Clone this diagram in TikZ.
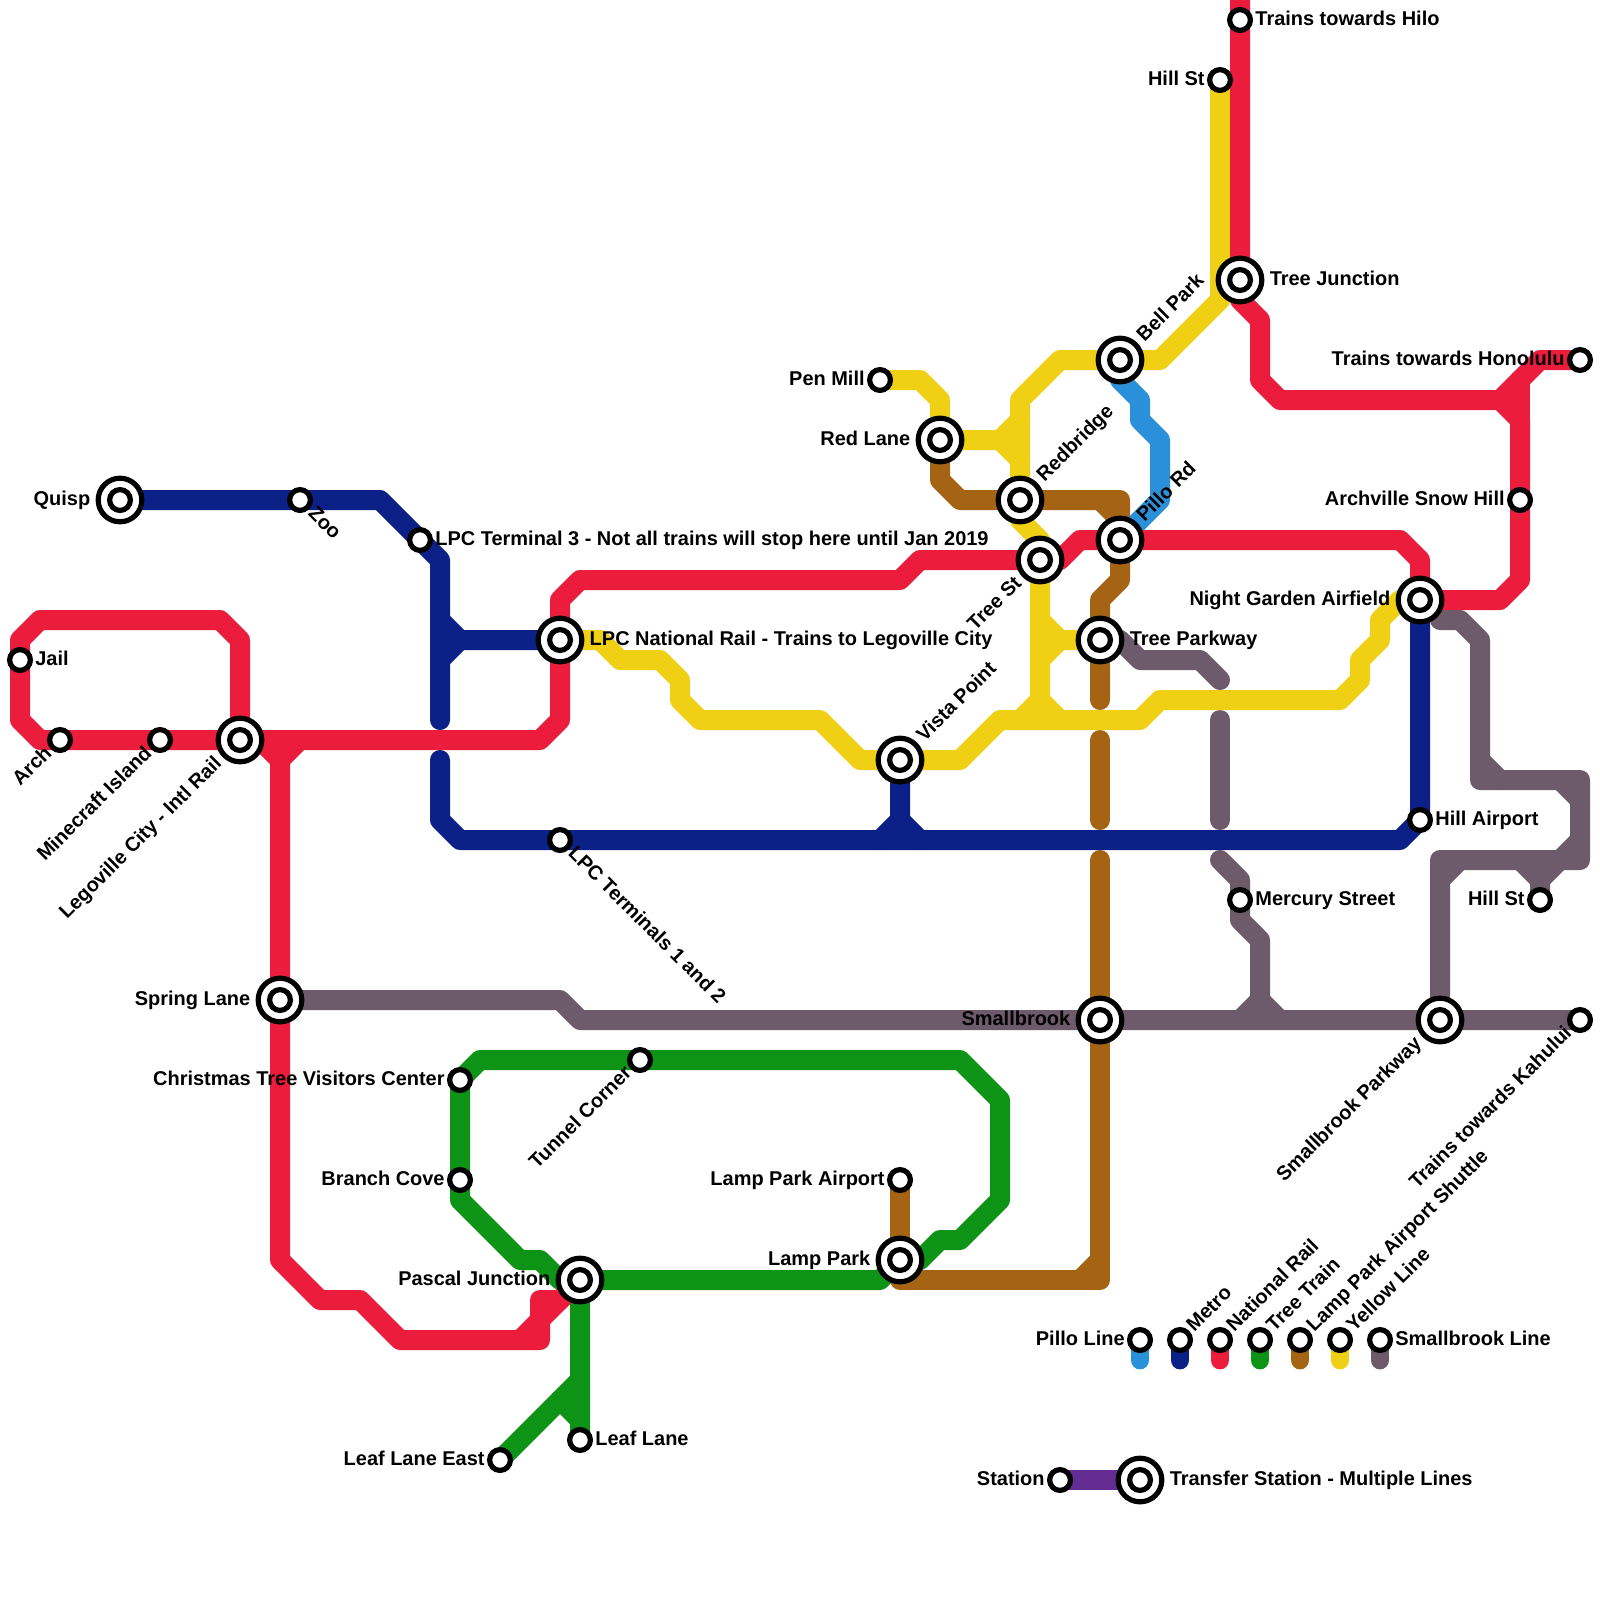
\documentclass[tikz,border=0pt]{standalone}
\usepackage{fontspec}
\setsansfont{Liberation Sans}
\usetikzlibrary{backgrounds}
\definecolor{cpillo}{HTML}{2A90D9}
\definecolor{cmetro}{HTML}{0C2188}
\definecolor{crail}{HTML}{EC1C3C}
\definecolor{ctree}{HTML}{0D9416}
\definecolor{clamp}{HTML}{A56413}
\definecolor{cyellow}{HTML}{F0D014}
\definecolor{csmall}{HTML}{6D5B6B}
\definecolor{cpurple}{HTML}{632C92}
\tikzset{
  route/.style={draw=#1, line width=0.5cm, line cap=round, line join=round},
  stub/.style={draw=#1, line width=0.47cm, line cap=round},
  stn/.style={circle, draw=black, fill=white, line width=0.13cm, minimum size=0.52cm, inner sep=0pt},
  xfer/.style={circle, draw=black, fill=white, line width=0.13cm, minimum size=1.09cm, inner sep=0pt, label={[stn]center:}},
  tag/.style={font=\sffamily\bfseries\fontsize{14.2}{14.2}\selectfont, inner sep=0pt, inner xsep=1.5pt},
  bigtag/.style={inner xsep=3.6pt},
  tag0/.style={tag, anchor=mid west, yshift=-1.4pt},
  tag180/.style={tag, anchor=mid east, yshift=-1.4pt},
  tag45/.style={tag, anchor=mid west, rotate=45, yshift=-1.4pt},
  tag-45/.style={tag, anchor=mid west, rotate=-45, yshift=-1.4pt},
  tag225/.style={tag, anchor=mid east, rotate=45, yshift=-1.4pt},
}
\begin{document}
\begin{tikzpicture}[x=0.5cm, y=-0.5cm]
  \useasboundingbox (0,0) rectangle (80,80);
  % interchanges
  \foreach \n/\x/\y/\a/\t in {quisp/6/25/180/Quisp, lpcrail/28/32/0/LPC National Rail - Trains to Legoville City,
    legov/12/37/225/Legoville City - Intl Rail, spring/14/50/180/Spring Lane, pascal/29/64/180/Pascal Junction,
    lamppk/45/63/180/Lamp Park, vista/45/38/45/Vista Point, redlane/47/22/180/Red Lane, redbr/51/25/45/Redbridge,
    treest/52/28/225/Tree St, pillo/56/27/45/Pillo Rd, bell/56/18/45/Bell Park, treejct/62/14/0/Tree Junction,
    treepk/55/32/0/Tree Parkway, smallb/55/51/180/Smallbrook, nightg/71/30/180/Night Garden Airfield,
    parkway/72/51/225/Smallbrook Parkway, keyxfer/57/74/0/Transfer Station - Multiple Lines}
    {\node[xfer] (\n) at (\x,\y) {}; \node[tag\a, bigtag] (\n-tag) at (\n.\a) {\t};}
  % plain stations
  \foreach \n/\x/\y/\a/\t in {zoo/15/25/-45/Zoo, lpcthree/21/27/0/LPC Terminal 3 - Not all trains will stop here until Jan 2019,
    jail/1/33/0/Jail, arch/3/37/225/Arch, minec/8/37/225/Minecraft Island, lpcone/28/42/-45/LPC Terminals 1 and 2,
    christ/23/54/180/Christmas Tree Visitors Center, tunnel/32/53/225/Tunnel Corner, branch/23/59/180/Branch Cove,
    leaf/29/72/0/Leaf Lane, leafe/25/73/180/Leaf Lane East, airport/45/59/180/Lamp Park Airport, penmill/44/19/180/Pen Mill,
    hilo/62/1/0/Trains towards Hilo, hillst/61/4/180/Hill St, hillair/71/41/0/Hill Airport, mercury/62/45/0/Mercury Street,
    hillse/77/45/180/Hill St, kahului/79/51/225/Trains towards Kahului, hono/79/18/180/Trains towards Honolulu,
    archv/76/25/180/Archville Snow Hill, keystn/53/74/180/Station}
    {\node[stn] (\n) at (\x,\y) {}; \node[tag\a] (\n-tag) at (\n.\a) {\t};}
  % key
  \foreach \n/\x/\a/\t in {keypillo/57/180/Pillo Line, keymetro/59/45/Metro, keyrail/61/45/National Rail, keytree/63/45/Tree Train,
    keylamp/65/45/Lamp Park Airport Shuttle, keyyellow/67/45/Yellow Line, keysmall/69/0/Smallbrook Line}
    {\node[stn] (\n) at (\x,67) {}; \node[tag\a] (\n-tag) at (\n.\a) {\t};}
  \begin{scope}[on background layer]
    % smallbrook line
    \draw[route=csmall] (spring.center) -- (28,50) -- (29,51) -- (kahului.center);
    \draw[route=csmall] (treepk.center) -- (56,32) -- (57,33) -- (60,33) -- (61,34);
    \draw[route=csmall] (61,36) -- (61,41);
    \draw[route=csmall] (61,43) -- (62,44) -- (mercury.center) -- (62,46) -- (63,47) -- (63,50) -- (62,51);
    \draw[route=csmall] (63,50) -- (64,51);
    \draw[route=csmall] (72,31) -- (73,31) -- (74,32) -- (74,39) -- (79,39) -- (79,43) -- (72,43) -- (parkway.center);
    \draw[route=csmall] (74,38) -- (75,39);
    \draw[route=csmall] (78,39) -- (79,40);
    \draw[route=csmall] (79,42) -- (78,43);
    \draw[route=csmall] (73,43) -- (72,44);
    \draw[route=csmall] (hillse.center) -- (77,44) -- (76,43);
    \draw[route=csmall] (77,44) -- (78,43);
    % lamp park airport shuttle
    \draw[route=clamp] (redlane.center) -- (47,24) -- (48,25) -- (56,25) -- (pillo.center) -- (56,29) -- (55,30) -- (55,35);
    \draw[route=clamp] (55,25) -- (56,26);
    \draw[route=clamp] (55,37) -- (55,41);
    \draw[route=clamp] (55,43) -- (55,64) -- (45,64) -- (airport.center);
    \draw[route=clamp] (54,64) -- (55,63);
    % pillo line
    \draw[route=cpillo] (bell.center) -- (56,19) -- (57,20) -- (57,21) -- (58,22) -- (58,25) -- (pillo.center);
    % metro
    \draw[route=cmetro] (quisp.center) -- (19,25) -- (22,28) -- (22,36);
    \draw[route=cmetro] (lpcrail.center) -- (23,32) -- (22,31);
    \draw[route=cmetro] (23,32) -- (22,33);
    \draw[route=cmetro] (22,38) -- (22,41) -- (23,42) -- (70,42) -- (71,41) -- (nightg.center);
    \draw[route=cmetro] (vista.center) -- (45,41) -- (44,42);
    \draw[route=cmetro] (45,41) -- (46,42);
    % yellow line
    \draw[route=cyellow] (hillst.center) -- (61,15) -- (58,18) -- (53,18) -- (51,20) -- (51,26) -- (52,27) -- (52,35) -- (51,36);
    \draw[route=cyellow] (52,35) -- (53,36);
    \draw[route=cyellow] (penmill.center) -- (46,19) -- (47,20) -- (redlane.center) -- (50,22) -- (51,21);
    \draw[route=cyellow] (50,22) -- (51,23);
    \draw[route=cyellow] (treepk.center) -- (53,32) -- (52,31);
    \draw[route=cyellow] (53,32) -- (52,33);
    \draw[route=cyellow] (lpcrail.center) -- (30,32) -- (31,33) -- (33,33) -- (34,34) -- (34,35) -- (35,36) -- (41,36) -- (43,38)
      -- (48,38) -- (50,36) -- (57,36) -- (58,35) -- (67,35) -- (68,34) -- (68,33) -- (69,32) -- (69,31) -- (70,30) -- (nightg.center);
    % tree train
    \draw[route=ctree] (pascal.center) -- (44,64) -- (lamppk.center) -- (46,63) -- (47,62) -- (48,62) -- (50,60) -- (50,55) -- (48,53)
      -- (24,53) -- (christ.center) -- (23,60) -- (26,63) -- (27,63) -- (28,64) -- (pascal.center) -- (leaf.center);
    \draw[route=ctree] (leafe.center) -- (29,69);
    \draw[route=ctree] (28,70) -- (29,71);
    % national rail
    \draw[route=crail] (62,0) -- (62,15) -- (63,16) -- (63,19) -- (64,20) -- (75,20) -- (77,18) -- (hono.center);
    \draw[route=crail] (75,20) -- (76,21) -- (76,29) -- (75,30) -- (nightg.center);
    \draw[route=crail] (76,19) -- (76,21);
    \draw[route=crail] (pillo.center) -- (70,27) -- (71,28) -- (nightg.center);
    \draw[route=crail] (pillo.center) -- (54,27) -- (53,28) -- (46,28) -- (45,29) -- (29,29) -- (28,30) -- (28,36) -- (27,37) -- (2,37)
      -- (1,36) -- (1,32) -- (2,31) -- (11,31) -- (12,32) -- (legov.center);
    \draw[route=crail] (13,37) -- (14,38) -- (15,37);
    \draw[route=crail] (14,38) -- (14,63) -- (16,65) -- (18,65) -- (20,67) -- (27,67) -- (27,65) -- (28,65) -- (pascal.center);
    \draw[route=crail] (26,67) -- (pascal.center);
    % key
    \foreach \n/\c in {keypillo/cpillo, keymetro/cmetro, keyrail/crail, keytree/ctree, keylamp/clamp, keyyellow/cyellow, keysmall/csmall}
      \draw[stub=\c] (\n.center) -- ++(0,1);
    \draw[route=cpurple, line cap=butt] (keystn.center) -- (keyxfer.center);
  \end{scope}
\end{tikzpicture}
\end{document}
